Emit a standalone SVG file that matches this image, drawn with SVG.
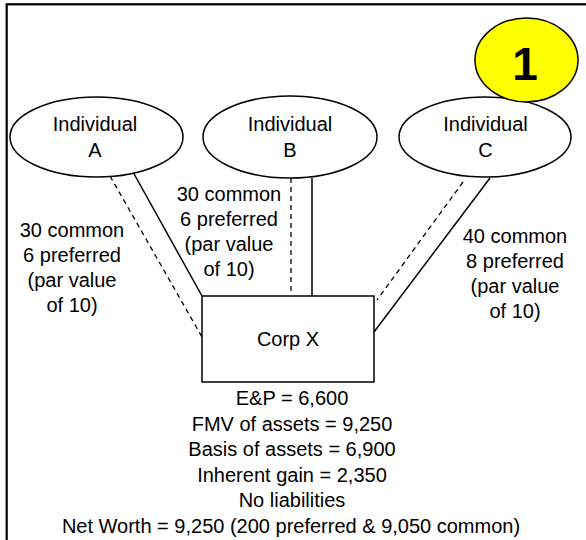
<svg xmlns="http://www.w3.org/2000/svg" width="586" height="540" viewBox="0 0 586 540">
<style>
  text { font-family: "Liberation Sans", Arial, sans-serif; font-size: 20px; fill: #000; text-anchor: middle; }
  .shape { fill: #fff; stroke: #000; stroke-width: 1.5; }
  .solid { stroke: #000; stroke-width: 1.5; fill: none; }
  .dash { stroke: #000; stroke-width: 1.3; fill: none; stroke-dasharray: 5 4; }
</style>
<rect x="0" y="0" width="586" height="540" fill="#fff"/>
<rect x="6.7" y="4.3" width="620" height="600" fill="none" stroke="#000" stroke-width="2.2"/>
<g id="connectors">
  <line class="solid" x1="133" y1="172" x2="202" y2="296"/>
  <line class="dash" x1="110" y1="176" x2="202" y2="337"/>
  <line class="dash" x1="291" y1="178" x2="291" y2="292"/>
  <line class="solid" x1="312" y1="178" x2="312" y2="296"/>
  <line class="dash" x1="463" y1="182" x2="377" y2="300"/>
  <line class="solid" x1="490" y1="178" x2="374" y2="332"/>
</g>
<g id="labels">
  <text x="72" y="237">30 common</text>
  <text x="72" y="262">6 preferred</text>
  <text x="72" y="287">(par value</text>
  <text x="72" y="312">of 10)</text>
  <text x="229" y="201">30 common</text>
  <text x="229" y="226">6 preferred</text>
  <text x="229" y="251">(par value</text>
  <text x="229" y="276">of 10)</text>
  <text x="515" y="243">40 common</text>
  <text x="515" y="268">8 preferred</text>
  <text x="515" y="293">(par value</text>
  <text x="515" y="318">of 10)</text>
</g>
<g id="individual-a">
  <ellipse class="shape" cx="96.5" cy="137" rx="86.5" ry="40"/>
  <text x="95" y="131">Individual</text>
  <text x="95" y="157">A</text>
</g>
<g id="individual-b">
  <ellipse class="shape" cx="290" cy="137" rx="87" ry="41"/>
  <text x="290" y="131">Individual</text>
  <text x="290" y="157">B</text>
</g>
<g id="individual-c">
  <ellipse class="shape" cx="485" cy="137" rx="86" ry="40"/>
  <text x="485.5" y="131">Individual</text>
  <text x="485.5" y="157">C</text>
</g>
<g id="badge">
  <ellipse cx="526.5" cy="60" rx="51.5" ry="42" fill="#ffff00" stroke="#000" stroke-width="1.5"/>
  <text x="525" y="80" style="font-size:46px;font-weight:bold">1</text>
</g>
<g id="corp-x">
  <rect class="shape" x="202" y="296" width="172" height="86"/>
  <text x="288" y="346">Corp X</text>
</g>
<g id="corp-notes">
  <text x="292" y="405">E&amp;P = 6,600</text>
  <text x="292" y="430.5">FMV of assets = 9,250</text>
  <text x="292" y="456">Basis of assets = 6,900</text>
  <text x="292" y="481.5">Inherent gain = 2,350</text>
  <text x="292" y="507">No liabilities</text>
  <text x="291" y="532.5">Net Worth = 9,250 (200 preferred &amp; 9,050 common)</text>
</g>
</svg>
